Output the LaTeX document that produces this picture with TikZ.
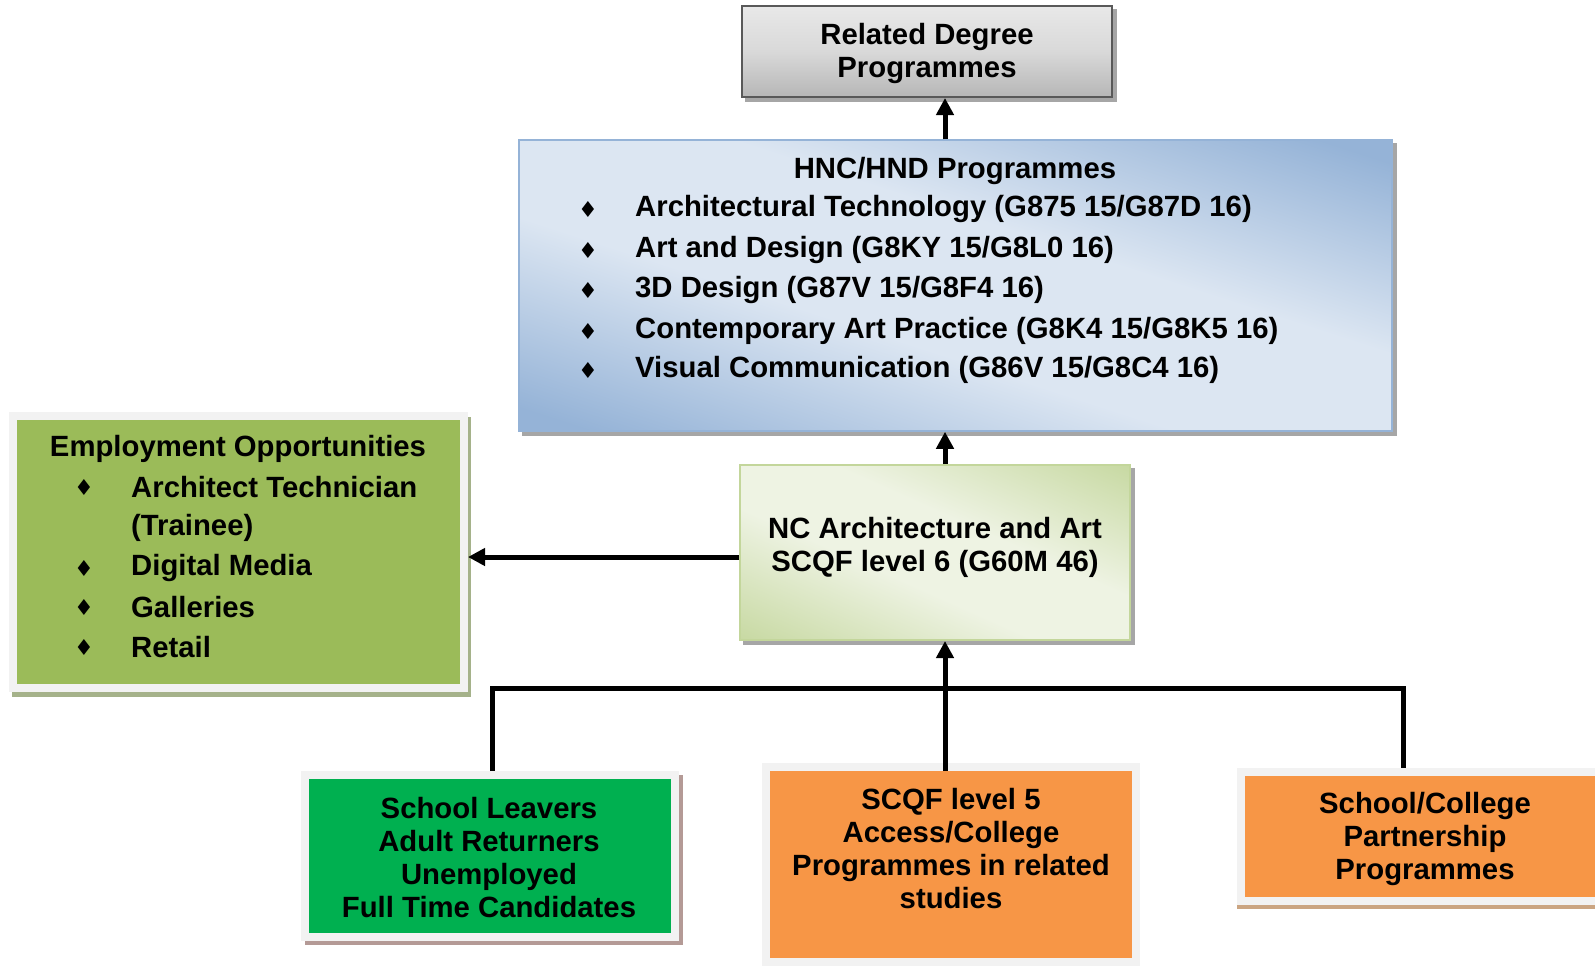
\documentclass[tikz,border=0pt]{standalone}
\usepackage{fontspec}
\setmainfont{Liberation Sans}
\newfontfamily\dejavu{DejaVu Sans}
\usetikzlibrary{arrows.meta,backgrounds}
\definecolor{empgreen}{HTML}{9BBB59}
\definecolor{slgreen}{HTML}{00B050}
\definecolor{orangebox}{HTML}{F79646}
\definecolor{framegray}{HTML}{F2F2F2}
\definecolor{hnclight}{HTML}{DCE6F2}
\definecolor{hncdark}{HTML}{95B3D7}
\definecolor{nclight}{HTML}{EEF3E3}
\definecolor{ncdark}{HTML}{C3D69B}
\definecolor{shadowgray}{HTML}{A6A6A6}
\definecolor{shadowbrown}{HTML}{B49A96}
\definecolor{shadowtan}{HTML}{CBA582}
\pgfdeclarehorizontalshading{hncshade}{100bp}{color(0bp)=(hncdark); color(21bp)=(hncdark); color(42bp)=(hnclight); color(58bp)=(hnclight); color(79bp)=(hncdark); color(100bp)=(hncdark)}
\pgfdeclarehorizontalshading{ncshade}{100bp}{color(0bp)=(ncdark); color(14bp)=(ncdark); color(42bp)=(nclight); color(58bp)=(nclight); color(86bp)=(ncdark); color(100bp)=(ncdark)}
\pgfdeclareverticalshading{relshade}{100bp}{color(0bp)=(black!42); color(50bp)=(black!15); color(100bp)=(black!3)}
\tikzset{
  txt/.style={font=\bfseries\fontsize{29.3}{33}\selectfont, inner sep=0pt, align=center},
  bul/.style={font=\dejavu\fontsize{22}{22}\selectfont, inner sep=0pt},
  framed/.style={draw=framegray, line width=8pt, inner sep=0pt, txt},
  arr/.style={line width=5pt, -{Triangle[length=17pt,width=17pt]}},
  wire/.style={line width=5pt, line join=miter},
}
\begin{document}
\begin{tikzpicture}[x=1pt,y=-1pt]
\useasboundingbox (0,0) rectangle (1595,967);
\clip (0,0) rectangle (1595,967);

% boxes
\node[draw=black!65, line width=2pt, shading=relshade,
      minimum width=370pt, minimum height=91pt, inner sep=0pt] (rel) at (927,51.5) {};
\node[txt] (relt) at (927,53.5) {Related Degree\\Programmes};

\node[draw=hncdark, line width=1.5pt, shading=hncshade, shading angle=72,
      minimum width=873pt, minimum height=291pt, inner sep=0pt] (hnc) at (955.5,285.5) {};
\node[txt] (hnct) at (955,171) {HNC/HND Programmes};
\node[bul] (hb1) at (588,209) {♦};
\node[bul] (hb2) at (588,250) {♦};
\node[bul] (hb3) at (588,290) {♦};
\node[bul] (hb4) at (588,331) {♦};
\node[bul] (hb5) at (588,370) {♦};
\node[txt, anchor=west] (h1) at (635,209) {Architectural Technology (G875 15/G87D 16)};
\node[txt, anchor=west] (h2) at (635,250) {Art and Design (G8KY 15/G8L0 16)};
\node[txt, anchor=west] (h3) at (635,290) {3D Design (G87V 15/G8F4 16)};
\node[txt, anchor=west] (h4) at (635,331) {Contemporary Art Practice (G8K4 15/G8K5 16)};
\node[txt, anchor=west] (h5) at (635,370) {Visual Communication (G86V 15/G8C4 16)};

\node[framed, fill=empgreen, minimum width=451pt, minimum height=272pt] (emp) at (238.5,552) {};
\node[txt] (empt) at (238,449) {Employment Opportunities};
\node[bul] (eb1) at (84,487) {♦};
\node[bul] (eb2) at (84,568) {♦};
\node[bul] (eb3) at (84,607) {♦};
\node[bul] (eb4) at (84,647) {♦};
\node[txt, anchor=west] (e1) at (131,487) {Architect Technician};
\node[txt, anchor=west] (e1b) at (131,528) {(Trainee)};
\node[txt, anchor=west] (e2) at (131,568) {Digital Media};
\node[txt, anchor=west] (e3) at (131,607) {Galleries};
\node[txt, anchor=west] (e4) at (131,647) {Retail};

\node[draw=ncdark, line width=2pt, shading=ncshade, shading angle=66,
      minimum width=390pt, minimum height=175pt, inner sep=0pt] (nc) at (935,552.5) {};
\node[txt] (nct) at (935,547.5) {NC Architecture and Art\\SCQF level 6 (G60M 46)};

\node[framed, fill=slgreen, minimum width=370pt, minimum height=162pt] (sl) at (490,856) {};
\node[txt] (slt) at (489,858) {School Leavers\\Adult Returners\\Unemployed\\Full Time Candidates};
\node[framed, fill=orangebox, minimum width=370pt, minimum height=195pt] (sc5) at (951,864.5) {};
\node[txt] (sc5t) at (951,848.5) {SCQF level 5\\Access/College\\Programmes in related\\studies};
\node[framed, fill=orangebox, minimum width=368pt, minimum height=129pt] (scc) at (1425,836.5) {};
\node[txt] (scct) at (1425,838.5) {School/College\\Partnership\\Programmes};

% shadows
\begin{scope}[on background layer]
  \fill[shadowgray] ([shift={(4,4)}]rel.north west) rectangle ([shift={(4,4)}]rel.south east);
  \fill[shadowgray] ([shift={(4,4)}]hnc.north west) rectangle ([shift={(4,4)}]hnc.south east);
  \fill[shadowgray] ([shift={(4,4)}]nc.north west) rectangle ([shift={(4,4)}]nc.south east);
  \fill[black!32!empgreen!60!white] ([shift={(3,5)}]emp.north west) rectangle ([shift={(3,5)}]emp.south east);
  \fill[shadowbrown] ([shift={(4,4)}]sl.north west) rectangle ([shift={(4,4)}]sl.south east);
  \fill[shadowtan] ([shift={(0,4)}]scc.north west) rectangle ([shift={(0,4)}]scc.south east);
\end{scope}

% connectors
\coordinate (ax) at (945,0);
\coordinate (bus) at (0,688);
\coordinate (rx) at (1403,0);
\coordinate (lx) at (492,0);
\coordinate (ey) at (0,557);
\draw[arr] (ax |- hnc.north) -- (ax |- rel.south);
\draw[arr] (ax |- nc.north) -- (ax |- hnc.south);
\draw[arr] (nc.west |- ey) -- (emp.east |- ey);
\draw[wire] (lx |- sl.north) -- (lx |- bus) -- (rx |- bus) -- (rx |- scc.north);
\draw[arr] ([yshift=-8pt]ax |- sc5.north) -- (ax |- nc.south);
\end{tikzpicture}
\end{document}
